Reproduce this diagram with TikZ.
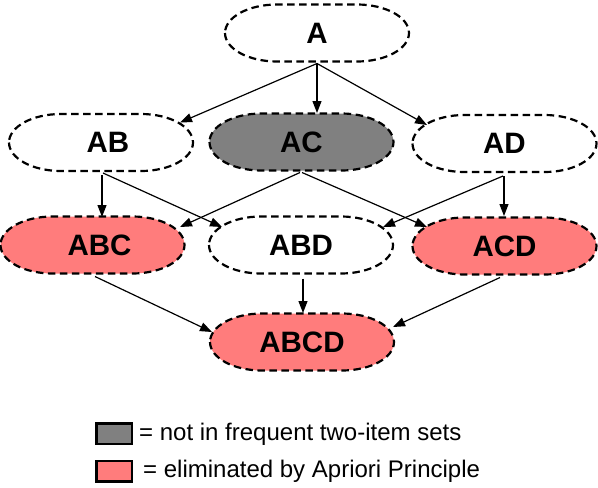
\documentclass[tikz,border=0pt]{standalone}
\usepackage{fontspec}
\setmainfont{Liberation Sans}
\usetikzlibrary{arrows.meta,calc,backgrounds}
\definecolor{cgray}{RGB}{128,128,128}
\definecolor{cpink}{RGB}{255,124,124}
\newcommand\itemsetborder[2]{%
  \path[setborder, fill=#2] ($(#1.center)+(-92,0)$)
    arc[start angle=180, end angle=90, x radius=52, y radius=28.5] -- ++(80,0)
    arc[start angle=90, end angle=0, x radius=52, y radius=28.5]
    arc[start angle=0, end angle=-90, x radius=52, y radius=28.5] -- ++(-80,0)
    arc[start angle=-90, end angle=-180, x radius=52, y radius=28.5] -- cycle;}
\begin{document}
\begin{tikzpicture}[x=1pt,y=-1pt,
 setnode/.style={minimum width=184pt, minimum height=57pt, font=\fontsize{29.5}{33}\selectfont\bfseries, inner sep=0pt, outer sep=1pt},
 setborder/.style={draw, line width=2.2pt, dash pattern=on 7.5pt off 4.5pt},
 conn/.style={line width=1.2pt, -{Triangle[length=12pt,width=9pt]}},
 keybox/.style={draw, line width=2.5pt, minimum width=35.5pt, minimum height=20.5pt, inner sep=0pt},
 keytext/.style={anchor=west, font=\fontsize{24}{28}\selectfont, inner sep=0pt}]
\useasboundingbox (0,0) rectangle (598,488);
\node[setnode] (A) at (317,33) {A};
\node[setnode] (AB) at (101,142.5) {\hspace*{14pt}AB};
\node[setnode] (AC) at (301.5,142) {AC};
\node[setnode] (AD) at (504.5,143.5) {AD};
\node[setnode] (ABC) at (92.5,245) {\hspace*{14pt}ABC};
\node[setnode] (ABD) at (301,245) {ABD};
\node[setnode] (ACD) at (504.5,246) {ACD};
\node[setnode] (ABCD) at (302,342) {ABCD};
\begin{scope}[on background layer]
\itemsetborder{A}{white}
\itemsetborder{AB}{white}
\itemsetborder{AC}{cgray}
\itemsetborder{AD}{white}
\itemsetborder{ABC}{cpink}
\itemsetborder{ABD}{white}
\itemsetborder{ACD}{cpink}
\itemsetborder{ABCD}{cpink}
\end{scope}

\draw[conn] ($(A.south)+(0,1)$) -- ($(AB.center)+(79,-20)$);
\draw[conn] ($(A.south)+(0,1)$) -- ($(AC.center)+(15.5,-29)$);
\draw[conn] ($(A.south)+(0,1)$) -- ($(AD.center)+(-77.5,-18.5)$);
\draw[conn] ($(AB.south)+(1,3)$) -- ($(ABC.center)+(9.5,-28)$);
\draw[conn] ($(AB.south)+(2,1)$) -- ($(ABD.center)+(-79,-18)$);
\draw[conn] ($(AC.south)+(-1.5,1)$) -- ($(ABC.center)+(87.5,-18)$);
\draw[conn] ($(AC.south)+(0.5,1)$) -- ($(ACD.center)+(-77.5,-19)$);
\draw[conn] ($(AD.south)+(-1.5,3)$) -- ($(ABD.center)+(82,-18)$);
\draw[conn] ($(AD.south)+(-0.5,3)$) -- ($(ACD.center)+(-0.5,-30)$);
\draw[conn] ($(ABC.south)+(2.5,2)$) -- ($(ABCD.center)+(-90,-10)$);
\draw[conn] ($(ABD.south)+(2,4)$) -- ($(ABCD.center)+(1,-29)$);
\draw[conn] ($(ACD.south)+(-4.5,2)$) -- ($(ABCD.center)+(91,-15)$);

\node[keybox, fill=cgray] (k1) at (114,433.5) {};
\node[keytext] (t1) at (139,434) {= not in frequent two-item sets};
\node[keybox, fill=cpink] (k2) at (114,471) {};
\node[keytext] (t2) at (143,471) {= eliminated by Apriori Principle};
\end{tikzpicture}
\end{document}
